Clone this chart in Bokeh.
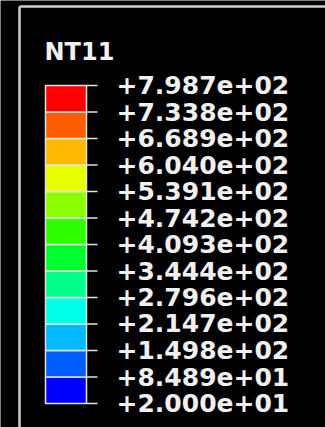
from bokeh.plotting import figure
from bokeh.models import Range1d
from bokeh.core.properties import value
from bokeh.embed import file_html
from bokeh.resources import INLINE

# Contour legend for nodal temperature NT11
title = "NT11"
levels = [20.0, 84.89, 149.8, 214.7, 279.6, 344.4, 409.3,
          474.2, 539.1, 604.0, 668.9, 733.8, 798.7]
tick_labels = ["+2.000e+01", "+8.489e+01", "+1.498e+02", "+2.147e+02",
               "+2.796e+02", "+3.444e+02", "+4.093e+02", "+4.742e+02",
               "+5.391e+02", "+6.040e+02", "+6.689e+02", "+7.338e+02",
               "+7.987e+02"]
band_colors = ["#0000FF", "#005DFF", "#00B9FF", "#00FFE8", "#00FF8B",
               "#00FF2E", "#2EFF00", "#8BFF00", "#E8FF00", "#FFB900",
               "#FF5D00", "#FF0000"]

W, H = 325, 427
BAR_TOP_PX, BAR_BOT_PX = 85, 403          # screen rows of the highest / lowest level
units_per_px = (levels[-1] - levels[0]) / (BAR_BOT_PX - BAR_TOP_PX)
y_lo = levels[0] - (H - BAR_BOT_PX) * units_per_px
y_hi = levels[0] + BAR_BOT_PX * units_per_px


def row(px):
    """Data y for a given screen row."""
    return levels[0] + (BAR_BOT_PX - px) * units_per_px


p = figure(width=W, height=H, output_backend="svg", toolbar_location=None,
           x_range=Range1d(0, W), y_range=Range1d(y_lo, y_hi),
           x_axis_location=None, y_axis_location=None, min_border=0)
p.background_fill_color = "black"
p.border_fill_color = "black"
p.outline_line_color = None
p.grid.visible = False

# viewport frame (top and left edges)
frame_col = "#CFCFCF"
p.segment(x0=[19], x1=[W + 5], y0=[row(6)], y1=[row(6)],
          line_color=frame_col, line_width=2.5)
p.segment(x0=[19], x1=[19], y0=[row(6)], y1=[row(H + 5)],
          line_color=frame_col, line_width=2.5)

# colour bands
p.quad(left=45, right=86, bottom=levels[:-1], top=levels[1:],
       fill_color=band_colors, line_color="#E2E2E2", line_width=1.5)

# tick marks at every level
p.segment(x0=86, x1=97, y0=levels, y1=levels,
          line_color="#E2E2E2", line_width=1.5)

# level labels
p.text(x=[116] * len(levels), y=levels, text=tick_labels,
       text_font=value("DejaVu Sans"), text_font_style="bold",
       text_font_size="25px", text_color="#F0F0F0",
       text_baseline="alphabetic", y_offset=-0.5)

# legend title
p.text(x=[44], y=[row(51)], text=[title],
       text_font=value("DejaVu Sans"), text_font_style="bold",
       text_font_size="24px", text_color="#F0F0F0",
       text_baseline="alphabetic")

open("out.html", "w").write(file_html(p, INLINE))
